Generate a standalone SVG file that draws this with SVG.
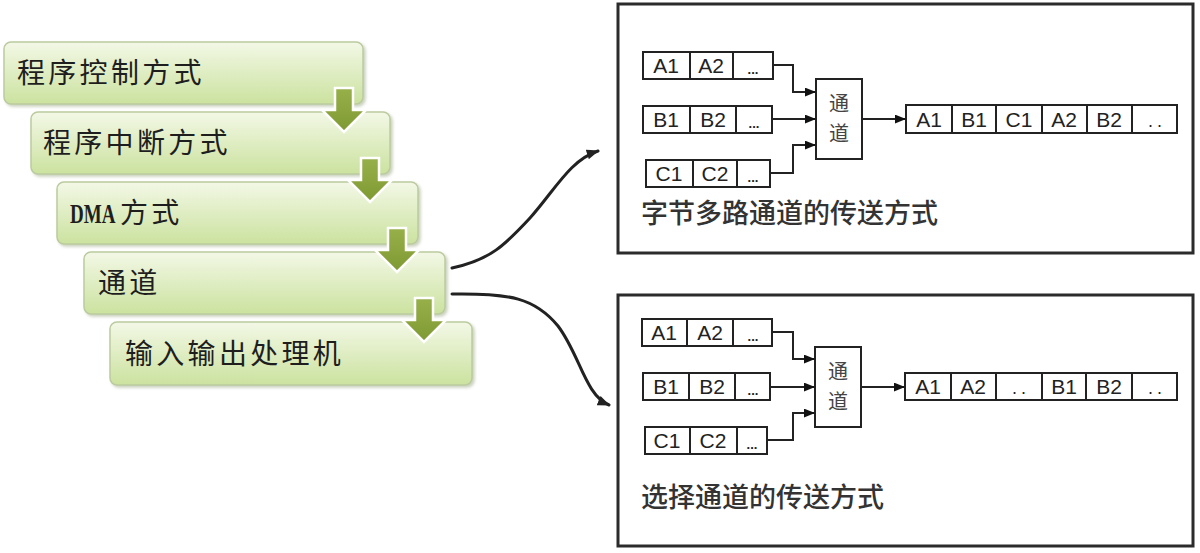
<svg xmlns="http://www.w3.org/2000/svg" width="1200" height="553" viewBox="0 0 1200 553">
<defs>
<linearGradient id="gBox" x1="0" y1="0" x2="0" y2="1">
<stop offset="0" stop-color="#f3f8e6"/>
<stop offset="1" stop-color="#cbe29f"/>
</linearGradient>
<linearGradient id="gArrow" x1="0" y1="0" x2="0" y2="1">
<stop offset="0" stop-color="#98b04a"/>
<stop offset="1" stop-color="#7f9a32"/>
</linearGradient>
<filter id="sh" x="-5%" y="-10%" width="115%" height="130%">
<feGaussianBlur in="SourceAlpha" stdDeviation="1.5"/>
<feOffset dx="2" dy="2" result="b"/>
<feFlood flood-color="#8a9a70" flood-opacity="0.45"/>
<feComposite in2="b" operator="in"/>
<feMerge><feMergeNode/><feMergeNode in="SourceGraphic"/></feMerge>
</filter>
<marker id="ah" viewBox="0 0 10 8" refX="10" refY="4" markerWidth="11" markerHeight="9" markerUnits="userSpaceOnUse" orient="auto">
<path d="M0,0 L10,4 L0,8 z" fill="#111"/>
</marker>
<marker id="ahc" viewBox="0 0 10 8" refX="9" refY="4" markerWidth="13" markerHeight="10" markerUnits="userSpaceOnUse" orient="auto">
<path d="M0,0 L10,4 L0,8 z" fill="#222"/>
</marker>
</defs>
<style>
.step{fill:url(#gBox);stroke:#bccb9f;stroke-width:1.5;filter:url(#sh)}
.stxt{font-family:"Noto Sans CJK SC","Noto Sans",sans-serif;font-size:28px;fill:#1e1e1e;letter-spacing:3.3px}
.darrow{fill:url(#gArrow);stroke:#ffffff;stroke-width:2.5;stroke-linejoin:miter}
.frame{fill:#ffffff;stroke:#2b2b2b;stroke-width:3}
.cell{fill:#ffffff;stroke:#222;stroke-width:2}
.div{stroke:#222;stroke-width:2}
.ct{font-family:"Liberation Sans","Noto Sans",sans-serif;font-size:21px;fill:#222;text-anchor:middle}
.dots{font-family:"Liberation Sans",sans-serif;font-size:13px;font-weight:bold;fill:#222;text-anchor:middle}
.dd{font-family:"Liberation Sans",sans-serif;font-size:18px;fill:#222;text-anchor:middle;letter-spacing:4px}
.chn{fill:#ffffff;stroke:#222;stroke-width:2}
.cht{font-family:"Noto Sans CJK SC",sans-serif;font-size:20px;fill:#444;text-anchor:middle}
.ttl{font-family:"Noto Sans CJK SC","Noto Sans",sans-serif;font-size:27px;font-weight:500;fill:#333}
.ln{fill:none;stroke:#222;stroke-width:2}
.curve{fill:none;stroke:#222;stroke-width:3;stroke-linecap:round}
</style>
<rect width="1200" height="553" fill="#ffffff"/>

<g id="step1">
<rect class="step" x="4" y="42" width="359" height="62" rx="7"/>
<text class="stxt" x="17" y="83">程序控制方式</text>
</g>
<g id="step2">
<rect class="step" x="31" y="112" width="359" height="62" rx="7"/>
<text class="stxt" x="43" y="153">程序中断方式</text>
</g>
<g id="step3">
<rect class="step" x="57" y="182" width="361" height="62" rx="7"/>
<text transform="translate(70,223) scale(0.68,1)" x="0" y="0" font-family="Liberation Serif,serif" font-weight="bold" font-size="28" fill="#1e1e1e">DMA</text>
<text class="stxt" x="120" y="223">方式</text>
</g>
<g id="step4">
<rect class="step" x="84" y="252" width="361" height="62" rx="7"/>
<text class="stxt" x="98" y="293">通道</text>
</g>
<g id="step5">
<rect class="step" x="110" y="322" width="362" height="63" rx="7"/>
<text class="stxt" x="125" y="364">输入输出处理机</text>
</g>

<g id="step-arrows">
<path class="darrow" d="M335,88 H353 V110 H366 L344,132 L322,110 H335 Z"/>
<path class="darrow" d="M361,158 H379 V180 H392 L370,202 L348,180 H361 Z"/>
<path class="darrow" d="M388,228 H406 V250 H419 L397,272 L375,250 H388 Z"/>
<path class="darrow" d="M415,298 H433 V320 H446 L424,342 L402,320 H415 Z"/>
</g>

<g id="frame-byte">
<rect class="frame" x="618" y="4" width="575" height="249"/>
<rect class="cell" x="643" y="52" width="130" height="27"/>
<line class="div" x1="690" y1="52" x2="690" y2="79"/>
<line class="div" x1="733" y1="52" x2="733" y2="79"/>
<text class="ct" x="666" y="73">A1</text>
<text class="ct" x="711" y="73">A2</text>
<text class="dots" x="753" y="74">...</text>
<rect class="cell" x="643" y="106" width="129" height="27"/>
<line class="div" x1="690" y1="106" x2="690" y2="133"/>
<line class="div" x1="736" y1="106" x2="736" y2="133"/>
<text class="ct" x="666" y="127">B1</text>
<text class="ct" x="713" y="127">B2</text>
<text class="dots" x="754" y="128">...</text>
<rect class="cell" x="646" y="160" width="124" height="27"/>
<line class="div" x1="693" y1="160" x2="693" y2="187"/>
<line class="div" x1="737" y1="160" x2="737" y2="187"/>
<text class="ct" x="669" y="181">C1</text>
<text class="ct" x="715" y="181">C2</text>
<text class="dots" x="753" y="182">...</text>
<rect class="chn" x="816" y="79" width="46" height="80"/>
<text class="cht" x="839" y="111">通</text>
<text class="cht" x="839" y="141">道</text>
<rect class="cell" x="906" y="105" width="271" height="28"/>
<line class="div" x1="952" y1="105" x2="952" y2="133"/>
<line class="div" x1="996" y1="105" x2="996" y2="133"/>
<line class="div" x1="1042" y1="105" x2="1042" y2="133"/>
<line class="div" x1="1087" y1="105" x2="1087" y2="133"/>
<line class="div" x1="1132" y1="105" x2="1132" y2="133"/>
<text class="ct" x="929" y="127">A1</text>
<text class="ct" x="974" y="127">B1</text>
<text class="ct" x="1019" y="127">C1</text>
<text class="ct" x="1064" y="127">A2</text>
<text class="ct" x="1109" y="127">B2</text>
<text class="dd" x="1157" y="127">..</text>
<text class="ttl" x="641" y="223">字节多路通道的传送方式</text>
</g>

<g id="frame-select">
<rect class="frame" x="618" y="295" width="575" height="251"/>
<rect class="cell" x="642" y="319" width="130" height="27"/>
<line class="div" x1="687" y1="319" x2="687" y2="346"/>
<line class="div" x1="733" y1="319" x2="733" y2="346"/>
<text class="ct" x="664" y="340">A1</text>
<text class="ct" x="710" y="340">A2</text>
<text class="dots" x="753" y="341">...</text>
<rect class="cell" x="643" y="373" width="127" height="27"/>
<line class="div" x1="689" y1="373" x2="689" y2="400"/>
<line class="div" x1="735" y1="373" x2="735" y2="400"/>
<text class="ct" x="666" y="394">B1</text>
<text class="ct" x="712" y="394">B2</text>
<text class="dots" x="753" y="395">...</text>
<rect class="cell" x="645" y="427" width="122" height="27"/>
<line class="div" x1="690" y1="427" x2="690" y2="454"/>
<line class="div" x1="737" y1="427" x2="737" y2="454"/>
<text class="ct" x="667" y="448">C1</text>
<text class="ct" x="713" y="448">C2</text>
<text class="dots" x="752" y="449">...</text>
<rect class="chn" x="815" y="347" width="46" height="80"/>
<text class="cht" x="838" y="379">通</text>
<text class="cht" x="838" y="409">道</text>
<rect class="cell" x="905" y="373" width="272" height="27"/>
<line class="div" x1="951" y1="373" x2="951" y2="400"/>
<line class="div" x1="996" y1="373" x2="996" y2="400"/>
<line class="div" x1="1042" y1="373" x2="1042" y2="400"/>
<line class="div" x1="1086" y1="373" x2="1086" y2="400"/>
<line class="div" x1="1132" y1="373" x2="1132" y2="400"/>
<text class="ct" x="928" y="394">A1</text>
<text class="ct" x="973" y="394">A2</text>
<text class="dd" x="1021" y="394">..</text>
<text class="ct" x="1064" y="394">B1</text>
<text class="ct" x="1109" y="394">B2</text>
<text class="dd" x="1157" y="394">..</text>
<text class="ttl" x="641" y="507">选择通道的传送方式</text>
</g>

<g id="connectors">
<path class="curve" d="M452,268 C490,260 505,245 530,218 C555,190 570,160 598,151" marker-end="url(#ahc)"/>
<path class="curve" d="M452,294 C510,293 535,298 558,326 C580,355 585,395 609,405" marker-end="url(#ahc)"/>
<path class="ln" d="M773,65 H793 V92 H816" marker-end="url(#ah)"/>
<path class="ln" d="M772,119 H816" marker-end="url(#ah)"/>
<path class="ln" d="M770,173 H793 V145 H816" marker-end="url(#ah)"/>
<path class="ln" d="M862,119 H906" marker-end="url(#ah)"/>
<path class="ln" d="M772,332 H793 V359 H815" marker-end="url(#ah)"/>
<path class="ln" d="M770,387 H815" marker-end="url(#ah)"/>
<path class="ln" d="M767,440 H793 V413 H815" marker-end="url(#ah)"/>
<path class="ln" d="M861,387 H905" marker-end="url(#ah)"/>
</g>
</svg>
